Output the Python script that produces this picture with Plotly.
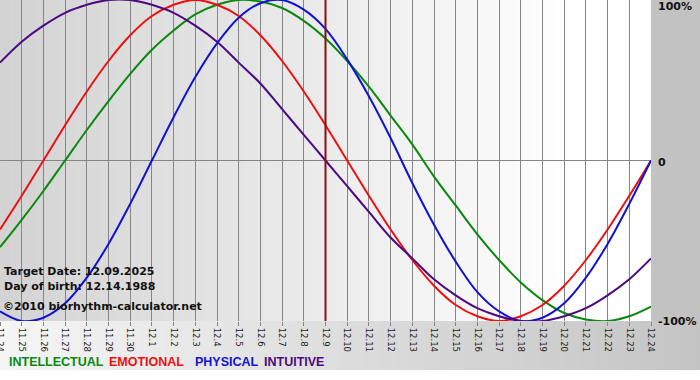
import plotly.graph_objects as go

# ---- data ----
dates = ["11.24", "11.25", "11.26", "11.27", "11.28", "11.29", "11.30",
         "12.1", "12.2", "12.3", "12.4", "12.5", "12.6", "12.7", "12.8", "12.9",
         "12.10", "12.11", "12.12", "12.13", "12.14", "12.15", "12.16", "12.17",
         "12.18", "12.19", "12.20", "12.21", "12.22", "12.23", "12.24"]

intellectual = [-0.54, -0.37, -0.19, 0.00, 0.19, 0.37, 0.54, 0.69, 0.81, 0.91, 0.97,
                1.00, 0.99, 0.95, 0.87, 0.76, 0.62, 0.46, 0.28, 0.10, -0.10, -0.28,
                -0.46, -0.62, -0.76, -0.87, -0.95, -0.99, -1.00, -0.97, -0.91]
emotional = [-0.43, -0.22, 0.00, 0.22, 0.43, 0.62, 0.78, 0.90, 0.97, 1.00, 0.97,
             0.90, 0.78, 0.62, 0.43, 0.22, 0.00, -0.22, -0.43, -0.62, -0.78, -0.90,
             -0.97, -1.00, -0.97, -0.90, -0.78, -0.62, -0.43, -0.22, 0.00]
physical = [-0.94, -1.00, -0.98, -0.89, -0.73, -0.52, -0.27, 0.00, 0.27, 0.52, 0.73,
            0.89, 0.98, 1.00, 0.94, 0.82, 0.63, 0.40, 0.14, -0.14, -0.40, -0.63,
            -0.82, -0.94, -1.00, -0.98, -0.89, -0.73, -0.52, -0.27, 0.00]
intuitive = [0.61, 0.74, 0.84, 0.92, 0.97, 1.00, 1.00, 0.97, 0.92, 0.84, 0.74,
             0.61, 0.48, 0.32, 0.16, 0.00, -0.16, -0.32, -0.48, -0.61, -0.74, -0.84,
             -0.92, -0.97, -1.00, -1.00, -0.97, -0.92, -0.84, -0.74, -0.61]

series_names = ["INTELLECTUAL", "EMOTIONAL", "PHYSICAL", "INTUITIVE"]
series_values = [intellectual, emotional, physical, intuitive]
series_colors = ["#0a880f", "#ee1010", "#1212d2", "#4b0a82"]

target_label = "12.9"
info_lines = ["Target Date: 12.09.2025", "Day of birth: 12.14.1988"]
credit_text = "©2010 biorhythm-calculator.net"
y_label_vals = [1, 0, -1]
y_label_text = ["100%", "0", "-100%"]

# ---- geometry ----
W, H = 700, 380
ML, MR, MT, MB = 0, 49, 0, 59
PW, PH = W - ML - MR, H - MT - MB


def px_x(p):
    return p / PW


def px_y(p):
    return (PH - p) / PH


def grey(v):
    v = int(round(max(0, min(255, v))))
    return f"rgb({v},{v},{v})"


shapes = []
# plot area gradient (grey on the left -> white on the right)
N = 130
for i in range(N):
    t = i / N
    shapes.append(dict(type="rect", xref="paper", yref="paper",
                       x0=t, x1=t + 1.0 / N + 0.003, y0=0, y1=1,
                       fillcolor=grey(211 + 44 * min(1.0, t / 0.88)),
                       line=dict(width=0), layer="below"))
# right margin
shapes.append(dict(type="rect", xref="paper", yref="paper",
                   x0=1, x1=W / PW + 0.01, y0=0, y1=1.01,
                   fillcolor=grey(194), line=dict(width=0), layer="below"))
# bottom band gradient (light on the left -> grey on the right)
M = 140
xmax = W / PW
for i in range(M):
    t = i / M
    shapes.append(dict(type="rect", xref="paper", yref="paper",
                       x0=t * xmax, x1=(t + 1.0 / M) * xmax + 0.003,
                       y0=px_y(370), y1=0,
                       fillcolor=grey(245 - 49 * t),
                       line=dict(width=0), layer="below"))

fig = go.Figure()

for name, vals, col in zip(series_names, series_values, series_colors):
    fig.add_trace(go.Scatter(x=dates, y=vals, mode="lines", name=name,
                             line=dict(color=col, width=2, shape="spline", smoothing=1.0),
                             hoverinfo="skip", showlegend=False))

# target date marker
fig.add_trace(go.Scatter(x=[target_label, target_label], y=[-1, 1], mode="lines",
                         line=dict(color="#8a1010", width=2), hoverinfo="skip",
                         showlegend=False))

annotations = []
info_y = [271, 286]
for txt, yy in zip(info_lines, info_y):
    annotations.append(dict(text="<b>" + txt + "</b>", x=px_x(2), y=px_y(yy),
                            xref="paper", yref="paper",
                            xanchor="left", yanchor="middle", showarrow=False,
                            font=dict(family="DejaVu Sans", size=11, color="#111111")))
annotations.append(dict(text="<b>" + credit_text + "</b>", x=px_x(1), y=px_y(306),
                        xref="paper", yref="paper",
                        xanchor="left", yanchor="middle", showarrow=False,
                        font=dict(family="DejaVu Sans", size=11, color="#111111")))

# right-side percentage labels
label_px = {1: 6, 0: 162, -1: 322}
for v, txt in zip(y_label_vals, y_label_text):
    annotations.append(dict(text="<b>" + txt + "</b>", x=1, y=px_y(label_px[v]),
                            xref="paper", yref="paper", xanchor="left", yanchor="middle",
                            xshift=5, showarrow=False,
                            font=dict(family="DejaVu Sans", size=11, color="#111111")))

# colored legend words
legend_x = [7, 107, 193, 262]
for name, col, lx in zip(series_names, series_colors, legend_x):
    annotations.append(dict(text="<b>" + name + "</b>", x=px_x(lx), y=px_y(362),
                            xref="paper", yref="paper", xanchor="left", yanchor="middle",
                            showarrow=False,
                            font=dict(family="Liberation Sans", size=12.5, color=col)))

fig.update_layout(
    width=W, height=H,
    margin=dict(l=ML, r=MR, t=MT, b=MB, pad=0, autoexpand=False),
    paper_bgcolor="white",
    plot_bgcolor="rgba(0,0,0,0)",
    shapes=shapes,
    annotations=annotations,
    showlegend=False,
    xaxis=dict(type="category", categoryorder="array", categoryarray=dates,
               range=[0, len(dates) - 1], tickvals=dates, ticktext=dates,
               showgrid=True, gridcolor="#858585", gridwidth=1,
               ticks="outside", ticklen=4, tickcolor="#858585", tickwidth=1,
               tickangle=90, tickfont=dict(family="DejaVu Sans", size=8.5, color="#222222"),
               showline=False, zeroline=False, fixedrange=True, automargin=False),
    yaxis=dict(range=[-1, 1], tickvals=y_label_vals, showticklabels=False,
               showgrid=True, gridcolor="#858585", gridwidth=1,
               zeroline=False, showline=False, ticks="", fixedrange=True,
               automargin=False),
)

fig.write_html("out.html",
               config={"displayModeBar": False, "staticPlot": True},
               post_script="document.body.style.margin='0px';document.body.style.padding='0px';")
